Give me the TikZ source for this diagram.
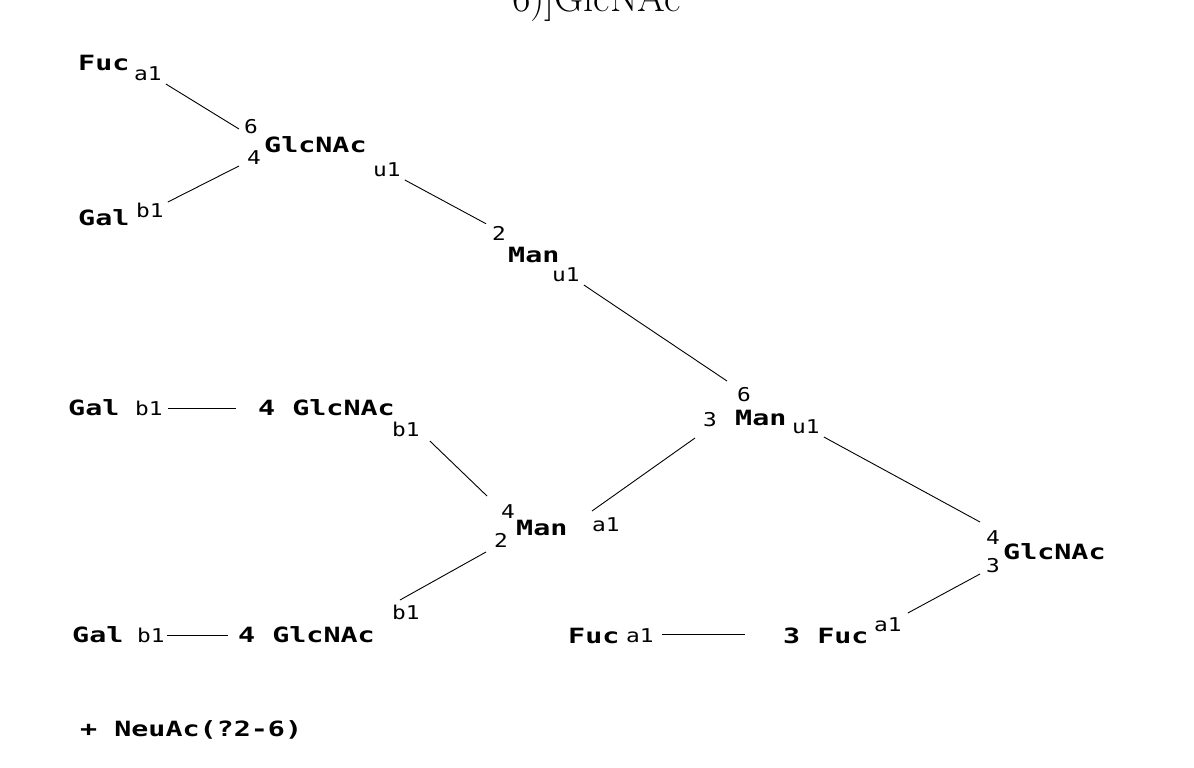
\documentclass[tikz,border=0pt]{standalone}
\usepackage{fontspec}
\newfontfamily\monob[FakeStretch=1.35]{DejaVu Sans Mono Bold}
\newfontfamily\monos[FakeStretch=1.2]{DejaVu Sans Mono}
\tikzset{x=1pt,y=-1pt,
 b/.style={font=\monob\fontsize{21}{21}\selectfont,inner sep=0,anchor=west},
 s/.style={font=\monos\fontsize{19}{19}\selectfont,inner sep=0,anchor=west},
 ln/.style={line width=0.9pt}}
\begin{document}
\begin{tikzpicture}
\path[use as bounding box,fill=white] (0,0) rectangle (1194,768);
\begin{scope}
\clip (0,0) rectangle (1194,768);
\node[font=\fontsize{40}{40}\selectfont,inner sep=0,anchor=west] (top) at (512,2) {6)]GlcNAc};
\end{scope}
% top-left
\node[b] (fuc1) at (78,63) {Fuc};
\node[s] (a1a) at (134,74) {a1};
\node[s] (n6a) at (244,127) {6};
\node[s] (n4a) at (247,158) {4};
\node[b] (glc1) at (264,145) {GlcNAc};
\node[b] (gal1) at (78,218) {Gal};
\node[s] (b1a) at (136,210) {b1};
\node[s] (u1a) at (373,170) {u1};
\draw[ln] ([shift={(4,10)}]a1a.east) -- ([shift={(-5,2)}]n6a.west);
\draw[ln] ([shift={(-8,8)}]n4a.west) -- ([shift={(4,-8)}]b1a.east);
% Man 2
\node[s] (n2b) at (492,233) {2};
\node[b] (man1) at (508,255) {Man};
\node[s] (u1b) at (552,275) {u1};
\draw[ln] ([shift={(4,10)}]u1a.east) -- ([shift={(-6,-2)}]n2b.north west);
% Man central
\node[s] (n6c) at (737,395) {6};
\node[s] (n3c) at (703,420) {3};
\node[b] (man2) at (735,418) {Man};
\node[s] (u1c) at (792,427) {u1};
\draw[ln] ([shift={(4,10)}]u1b.east) -- ([shift={(-10,-14)}]n6c.west);
% right GlcNAc
\node[s] (n4d) at (986,538) {4};
\node[s] (n3d) at (986,566) {3};
\node[b] (glc2) at (1003,552) {GlcNAc};
\draw[ln] ([shift={(4,10)}]u1c.east) -- ([shift={(-6,-16)}]n4d.west);
% Fuc chain
\node[b] (fuc2) at (568,636) {Fuc};
\node[s] (a1f) at (626,636) {a1};
\node[b] (fuc3) at (783,636) {3 Fuc};
\node[s] (a1g) at (874,625) {a1};
\draw[ln] ([shift={(8,-2)}]a1f.east) -- ([shift={(-38,-2)}]fuc3.west);
\draw[ln] ([shift={(-6,8)}]n3d.west) -- ([shift={(6,-12)}]a1g.east);
% lower Man
\node[s] (n4e) at (501,512) {4};
\node[s] (n2e) at (494,540) {2};
\node[b] (man3) at (516,528) {Man};
\node[s] (a1e) at (592,525) {a1};
\draw[ln] ([shift={(0,-14)}]a1e.west) -- ([shift={(-8,18)}]n3c.west);
% upper branch
\node[b] (gal2) at (68,408) {Gal};
\node[s] (b1b) at (135,408) {b1};
\node[b] (glc3) at (258,408) {4 GlcNAc};
\node[s] (b1c) at (392,429) {b1};
\draw[ln] ([xshift=5pt]b1b.east) -- ([xshift=-22pt]glc3.west);
\draw[ln] ([shift={(10,12)}]b1c.east) -- ([shift={(-14,-16)}]n4e.west);
% lower branch
\node[b] (gal3) at (72,635) {Gal};
\node[s] (b1d) at (137,635) {b1};
\node[b] (glc4) at (238,635) {4 GlcNAc};
\node[s] (b1e) at (392,612) {b1};
\draw[ln] ([xshift=2pt]b1d.east) -- ([xshift=-10pt]glc4.west);
\draw[ln] ([shift={(-8,12)}]n2e.west) -- ([shift={(8,-12)}]b1e.west);
% footnote
\node[b] (neu) at (80,730) {+ NeuAc(?2-6)};
\end{tikzpicture}
\end{document}
